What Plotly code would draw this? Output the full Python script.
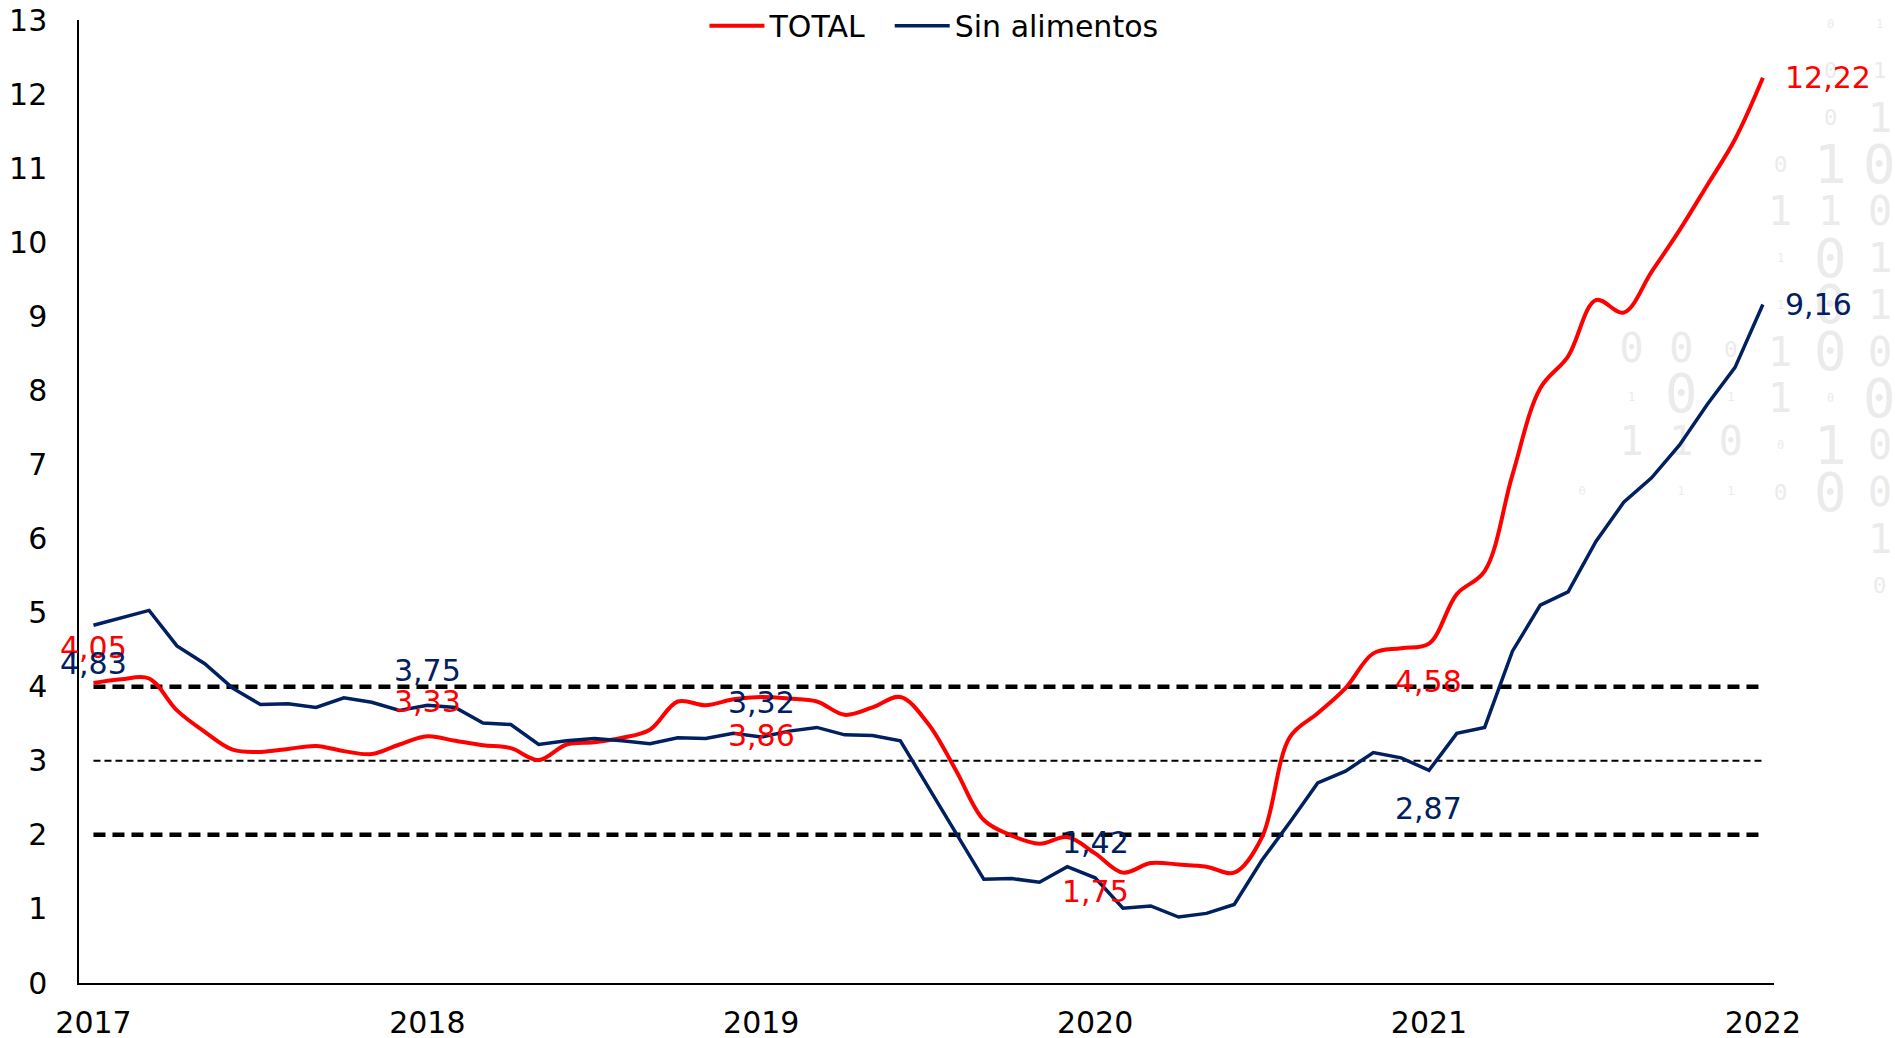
import plotly.graph_objects as go

# Monthly series, Jan 2017 .. Jan 2022 (61 months)
years = ["2017", "2018", "2019", "2020", "2021", "2022"]

total = [
    4.05, 4.10, 4.11, 3.68, 3.39, 3.15, 3.12, 3.16, 3.20, 3.13, 3.09, 3.22,
    3.33, 3.27, 3.21, 3.17, 3.01, 3.22, 3.25, 3.31, 3.42, 3.80, 3.75, 3.83,
    3.86, 3.84, 3.80, 3.62, 3.72, 3.86, 3.50, 2.87, 2.20, 1.99, 1.88, 1.97,
    1.75, 1.49, 1.62, 1.60, 1.57, 1.49, 1.97, 3.32, 3.64, 3.98, 4.45, 4.52,
    4.58, 5.25, 5.56, 6.86, 8.03, 8.46, 9.22, 9.05, 9.60, 10.16, 10.77, 11.39,
    12.22,
]

sin_alimentos = [
    4.83, 4.93, 5.03, 4.55, 4.31, 3.98, 3.76, 3.77, 3.72, 3.85, 3.79, 3.68,
    3.75, 3.72, 3.51, 3.49, 3.22, 3.27, 3.30, 3.27, 3.23, 3.31, 3.30, 3.37,
    3.32, 3.40, 3.45, 3.35, 3.34, 3.27, 2.64, 2.02, 1.40, 1.41, 1.36, 1.57,
    1.42, 1.01, 1.04, 0.89, 0.94, 1.06, 1.66, 2.17, 2.70, 2.86, 3.11, 3.04,
    2.87, 3.37, 3.45, 4.48, 5.10, 5.28, 5.96, 6.49, 6.82, 7.26, 7.81, 8.31,
    9.16,
]

# Reference band levels
band_outer = [4, 2]
band_mid = [3]

# Where the value labels go (every January)
label_months = [0, 12, 24, 36, 48, 60]
total_label_side = ["above", "above", "below", "below", "below", "right"]
sin_label_side = ["below", "above", "above", "above", "below", "right"]

RED = "#FF0000"
NAVY = "#002060"
FONT = "DejaVu Sans"
FS = 30
NBSP = "\u00a0"

W, H = 1895, 1038
MARGIN = dict(l=79, r=121, t=20, b=55, autoexpand=False)
X_RANGE = [-0.52, 60.4]
Y_RANGE = [0, 13]
PW = W - MARGIN["l"] - MARGIN["r"]
PH = H - MARGIN["t"] - MARGIN["b"]

months = list(range(len(total)))


def px_to_data(px, py):
    x = X_RANGE[0] + (px - MARGIN["l"]) / PW * (X_RANGE[1] - X_RANGE[0])
    y = Y_RANGE[1] - (py - MARGIN["t"]) / PH * (Y_RANGE[1] - Y_RANGE[0])
    return x, y


def px_to_paper(px, py):
    return (px - MARGIN["l"]) / PW, 1 - (py - MARGIN["t"]) / PH


fig = go.Figure()

# Faint binary-digit backdrop on the right-hand side
wm_digits = [
    "     01",
    "     01",
    "     01",
    "    010",
    "    110",
    "    101",
    "    101",
    " 000100",
    " 101100",
    " 110010",
    "0 11000",
    "      1",
    "      0",
]
wm_sizes = [
    "     TT",
    "     SS",
    "     SM",
    "    SLL",
    "    MMM",
    "    TLM",
    "    TLM",
    " MMSMLM",
    " TLTMTL",
    " MMMTLM",
    "T TTSLM",
    "      M",
    "      S",
]
size_px = {"T": 12, "S": 22, "M": 40, "L": 54}
WM_COLOR = "#EBEBEB"
WM_FONT = "DejaVu Sans Mono"
wx, wy, wt, ws = [], [], [], []
outside = []
for r, (drow, srow) in enumerate(zip(wm_digits, wm_sizes)):
    for c, (d, s) in enumerate(zip(drow, srow)):
        if d == " ":
            continue
        px, py = 1582 + 49.6 * c, 24 + 46.8 * r
        if px < MARGIN["l"] + PW - 10:
            x, y = px_to_data(px, py)
            wx.append(x)
            wy.append(y)
            wt.append(d)
            ws.append(size_px[s])
        else:
            outside.append((px, py, d, size_px[s]))

# digits inside the plot area sit beneath the lines
fig.add_trace(go.Scatter(
    x=wx, y=wy, text=wt, mode="text", cliponaxis=False,
    textfont=dict(family=WM_FONT, size=ws, color=WM_COLOR),
    showlegend=False, hoverinfo="skip",
))
# digits to the right of the plot area
for px, py, d, s in outside:
    xp, yp = px_to_paper(px, py)
    fig.add_annotation(
        x=xp, y=yp, xref="paper", yref="paper", text=d, showarrow=False,
        xanchor="center", yanchor="middle",
        font=dict(family=WM_FONT, size=s, color=WM_COLOR),
    )

# Band lines
for lvl in band_outer:
    fig.add_trace(go.Scatter(
        x=[months[0], months[-1]], y=[lvl, lvl], mode="lines",
        line=dict(color="black", width=4.5, dash="12px,7px"),
        showlegend=False, hoverinfo="skip",
    ))
for lvl in band_mid:
    fig.add_trace(go.Scatter(
        x=[months[0], months[-1]], y=[lvl, lvl], mode="lines",
        line=dict(color="black", width=2, dash="7px,4px"),
        showlegend=False, hoverinfo="skip",
    ))

# trailing no-break spaces widen the gap before the next legend entry
fig.add_trace(go.Scatter(
    x=months, y=total, mode="lines", name="TOTAL" + NBSP * 2,
    line=dict(color=RED, width=4, shape="spline", smoothing=1.0),
))
fig.add_trace(go.Scatter(
    x=months, y=sin_alimentos, mode="lines", name="Sin alimentos",
    line=dict(color=NAVY, width=3.5),
))


def fmt(v):
    return f"{v:.2f}".replace(".", ",")


def add_labels(series, sides, color):
    for m, side in zip(label_months, sides):
        v = series[m]
        kw = dict(x=m, y=v, text=fmt(v), showarrow=False,
                  font=dict(family=FONT, size=FS, color=color))
        if side == "above":
            kw.update(xanchor="center", yanchor="middle", yshift=35)
        elif side == "below":
            kw.update(xanchor="center", yanchor="middle", yshift=-38)
        else:
            kw.update(xanchor="left", yanchor="middle", xshift=20)
        fig.add_annotation(**kw)


add_labels(total, total_label_side, RED)
add_labels(sin_alimentos, sin_label_side, NAVY)

fig.update_layout(
    width=W, height=H,
    margin=MARGIN,
    paper_bgcolor="white", plot_bgcolor="white",
    font=dict(family=FONT, size=FS, color="black"),
    showlegend=True,
    legend=dict(
        orientation="h", x=0.369, xanchor="left", y=1.021, yanchor="top",
        font=dict(family=FONT, size=FS, color="black"),
        bgcolor="rgba(0,0,0,0)", tracegroupgap=0,
        itemwidth=55,
    ),
    hovermode=False,
)
fig.update_xaxes(
    range=X_RANGE, tickmode="array",
    tickvals=label_months, ticktext=years,
    showline=True, linecolor="black", linewidth=1.5,
    showgrid=False, zeroline=False, ticks="",
    ticklabelstandoff=12, automargin=False,
    tickfont=dict(family=FONT, size=FS, color="black"),
)
fig.update_yaxes(
    range=Y_RANGE, tickmode="linear", tick0=0, dtick=1,
    showline=True, linecolor="black", linewidth=1.5,
    showgrid=False, zeroline=False, ticks="",
    ticklabelstandoff=24, automargin=False,
    tickfont=dict(family=FONT, size=FS, color="black"),
)

fig.write_html("out.html")
